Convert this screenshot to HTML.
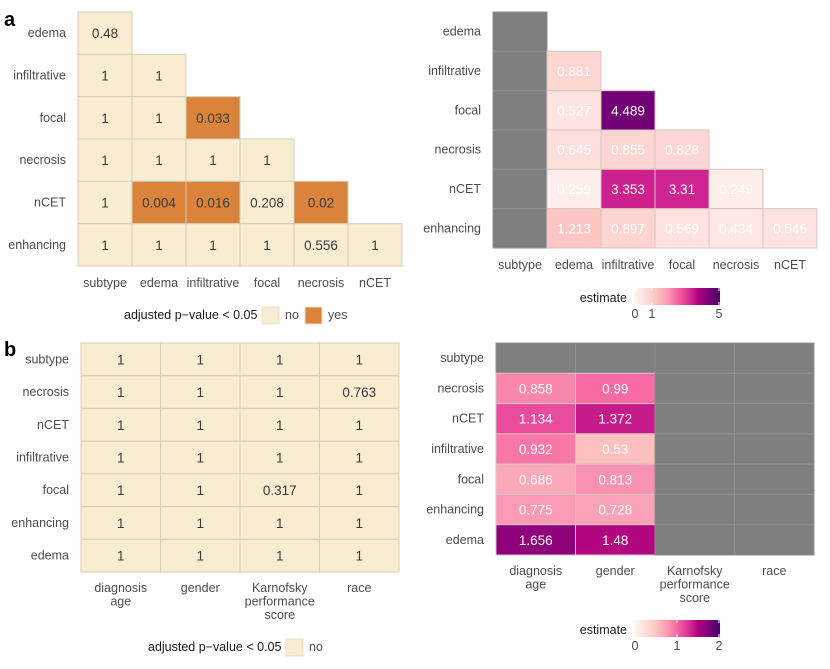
<!DOCTYPE html>
<html><head><meta charset="utf-8"><style>
body{margin:0;background:#fff;width:830px;height:664px;overflow:hidden}
svg{font-family:"Liberation Sans",sans-serif}
</style></head><body>
<svg id="s" width="830" height="664">
<text x="4" y="26" font-size="20" font-weight="bold">a</text>
<text x="4" y="356" font-size="20" font-weight="bold">b</text>
</svg>
<script>
const ns="http://www.w3.org/2000/svg";
const svg=document.getElementById('s');
function el(t,a,p){const e=document.createElementNS(ns,t);for(const k in a)e.setAttribute(k,a[k]);(p||svg).appendChild(e);return e;}
function txt(x,y,s,a,p){const e=el('text',Object.assign({x:x,y:y},a),p);e.textContent=s;return e;}

// ---- data ----
const aRows=["edema","infiltrative","focal","necrosis","nCET","enhancing"];
const aCols=["subtype","edema","infiltrative","focal","necrosis","nCET"];
const aPvals=[[0.48],[1,1],[1,1,0.033],[1,1,1,1],[1,0.004,0.016,0.208,0.02],[1,1,1,1,0.556,1]];
const aEst=[[null],[null,0.881],[null,0.527,4.489],[null,0.645,0.855,0.828],[null,0.259,3.353,3.31,0.249],[null,1.213,0.897,0.569,0.434,0.546]];
const bRows=["subtype","necrosis","nCET","infiltrative","focal","enhancing","edema"];
const bCols=[["diagnosis","age"],["gender"],["Karnofsky","performance","score"],["race"]];
const bPvals=[[1,1,1,1],[1,1,1,0.763],[1,1,1,1],[1,1,1,1],[1,1,0.317,1],[1,1,1,1],[1,1,1,1]];
const bEst=[[null,null,null,null],[0.858,0.99,null,null],[1.134,1.372,null,null],[0.932,0.53,null,null],[0.686,0.813,null,null],[0.775,0.728,null,null],[1.656,1.48,null,null]];
const aTicks=[0,1,5];
const bTicks=[0,1,2];

const RdPu=["#fff7f3","#fde0dd","#fcc5c0","#fa9fb5","#f768a1","#dd3497","#ae017e","#7a0177","#49006a"];
function hex(c){return [1,3,5].map(i=>parseInt(c.substr(i,2),16));}
function color(t){t=Math.max(0,Math.min(1,t))*(RdPu.length-1);const i=Math.min(Math.floor(t),RdPu.length-2),f=t-i;const a=hex(RdPu[i]),b=hex(RdPu[i+1]);return 'rgb('+a.map((v,k)=>Math.round(v+(b[k]-v)*f)).join(',')+')';}
function fmt(v){return String(v);}

function panel(o){
  const g=el('g',{});
  
  
  const cw=(o.x1-o.x0)/o.cols.length, rh=(o.y1-o.y0)/o.rows.length;
  o.rows.forEach((r,i)=>{
    const t=txt(o.x0-12,o.y0+rh*i+rh/2+4,r,{'font-size':12.5,fill:'#4d4d4d','text-anchor':'end'},g);
    
    
    o.vals[i].forEach((v,j)=>{
      const x=o.x0+cw*j,y=o.y0+rh*i;
      let fill,label=null,tc;
      if(o.kind==='p'){fill=v<0.05?'#d9843a':'#f9edd1';label=fmt(v);tc='#3a3a3a';}
      else{if(v===null){fill='#7f7f7f';}else{fill=color(v/o.max);label=fmt(v);}tc='#fff';}
      const c=el('rect',{x:x,y:y,width:cw,height:rh,fill:fill,stroke:o.kind==='p'?'#d6cdb9':(v===null?'#8f8f8f':'#d9c4c4'),'stroke-width':1},g);
      
      
      if(label!==null){const l=txt(x+cw/2,y+rh/2+5,label,{'font-size':13.5,fill:tc,'text-anchor':'middle'},g);
        
        }
    });
  });
  o.cols.forEach((c,j)=>{
    const lines=Array.isArray(c)?c:[c];
    lines.forEach((s,k)=>{const t=txt(o.x0+cw*j+cw/2,o.labY+k*13.5,s,{'font-size':12.5,fill:'#4d4d4d','text-anchor':'middle'},g);
      
      });
  });
}
panel({name:'pvalue-heatmap-a',kind:'p',rows:aRows,cols:aCols,vals:aPvals,x0:78,x1:402,y0:12,y1:266,labY:287});
panel({name:'estimate-heatmap-a',kind:'e',max:5,rows:aRows,cols:aCols,vals:aEst,x0:493,x1:817,y0:12,y1:248,labY:269});
panel({name:'pvalue-heatmap-b',kind:'p',rows:bRows,cols:bCols,vals:bPvals,x0:81,x1:399,y0:343,y1:572,labY:592});
panel({name:'estimate-heatmap-b',kind:'e',max:2,rows:bRows,cols:bCols,vals:bEst,x0:496,x1:814,y0:343,y1:555,labY:575});

function pLegend(y,tx,items){
  const g=el('g',{});
  
  
  txt(tx,y+4,'adjusted p\u2212value < 0.05',{'font-size':12.5,fill:'#1a1a1a'},g);
  items.forEach(it=>{const r=el('rect',{x:it.x,y:y-8,width:17,height:17,fill:it.c,stroke:'#e8e0cf'},g);
    
    
    txt(it.x+23,y+4,it.t,{'font-size':12.5,fill:'#4d4d4d'},g);});
}
pLegend(315,124,[{x:262,c:'#f9edd1',t:'no'},{x:305,c:'#d9843a',t:'yes'}]);
pLegend(647,148,[{x:286,c:'#f9edd1',t:'no'}]);

let gid=0;
function cbar(y,max,ticks){
  const g=el('g',{});
  
  
  const id='gr'+(gid++);
  const d=el('defs',{},g);const lg=el('linearGradient',{id:id,x1:0,x2:1,y1:0,y2:0},d);
  RdPu.forEach((c,i)=>el('stop',{offset:i/(RdPu.length-1),'stop-color':c},lg));
  const x0=634,x1=720;
  el('rect',{x:x0,y:y,width:x1-x0,height:17,fill:'url(#'+id+')'},g);
  txt(627,y+14,'estimate',{'font-size':12.5,fill:'#1a1a1a','text-anchor':'end'},g);
  ticks.forEach(t=>{const x=x0+1+(x1-x0-2)*t/max;
    el('line',{x1:x,x2:x,y1:y,y2:y+3,stroke:'#fff','stroke-width':1},g);
    el('line',{x1:x,x2:x,y1:y+14,y2:y+17,stroke:'#fff','stroke-width':1},g);
    txt(x,y+30,String(t),{'font-size':12.5,fill:'#4d4d4d','text-anchor':'middle'},g);});
}
cbar(288,5,aTicks);
cbar(620,2,bTicks);
</script>
</body></html>
